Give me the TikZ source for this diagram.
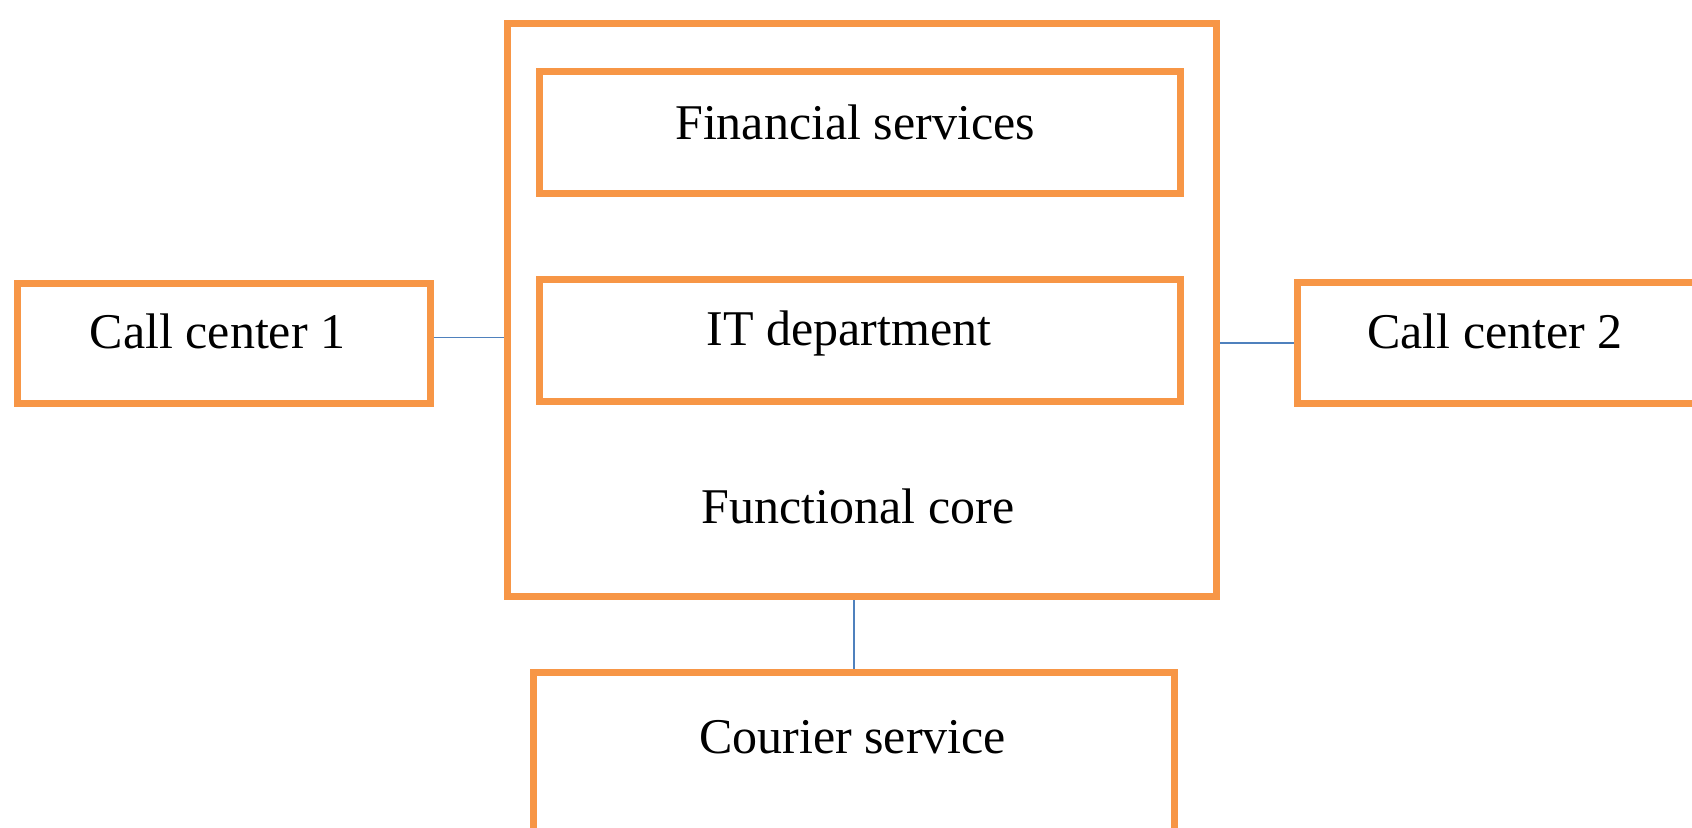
\documentclass[tikz,border=0pt]{standalone}
\usepackage{fontspec}
\setmainfont{Liberation Serif}
\definecolor{boxorange}{HTML}{F79646}
\definecolor{lineblue}{HTML}{4F81BD}
\begin{document}
\begin{tikzpicture}[x=0.5pt,y=-0.5pt]
\tikzset{
	box/.style={rectangle, draw=boxorange, line width=3.5pt, fill=none, inner sep=0pt},
	txt/.style={anchor=base, inner sep=0pt, font=\fontsize{25}{30}\selectfont},
	link/.style={draw=lineblue, line width=0.8pt}
}
\useasboundingbox (0,0) rectangle (1692,827);

% functional core
\node[box, minimum width=354.75pt, minimum height=286.5pt] (core) at (861.75,310) {};
\node[box, minimum width=320.25pt, minimum height=61pt] (fin) at (859.75,132.5) {};
\node[box, minimum width=320.25pt, minimum height=61pt] (it) at (859.75,340.5) {};
\node[txt] (fin_t) at (855,139.5) {Financial services};
\node[txt] (it_t) at (849,345) {IT department};
\node[txt] (core_t) at (858,523) {Functional core};

% call centers
\node[box, minimum width=206.5pt, minimum height=60pt] (cc1) at (223.5,343) {};
\node[txt] (cc1_t) at (217.5,348) {Call center 1};
\node[box, minimum width=206.5pt, minimum height=60.75pt] (cc2) at (1503.5,342.75) {};
\node[txt] (cc2_t) at (1495,348) {Call center 2};

% courier
\node[box, minimum width=320.25pt, minimum height=89pt] (cour) at (853.75,761) {};
\node[txt] (cour_t) at (852.5,753) {Courier service};

% connections
\draw[link] ([yshift=2.75pt]cc1.east) -- ([yshift=2.75pt]cc1.east -| core.west);
\draw[link] (core.east |- cc2.west) -- (cc2.west);
\draw[link] (core.south -| cour.north) -- (cour.north);

\end{tikzpicture}
\end{document}
